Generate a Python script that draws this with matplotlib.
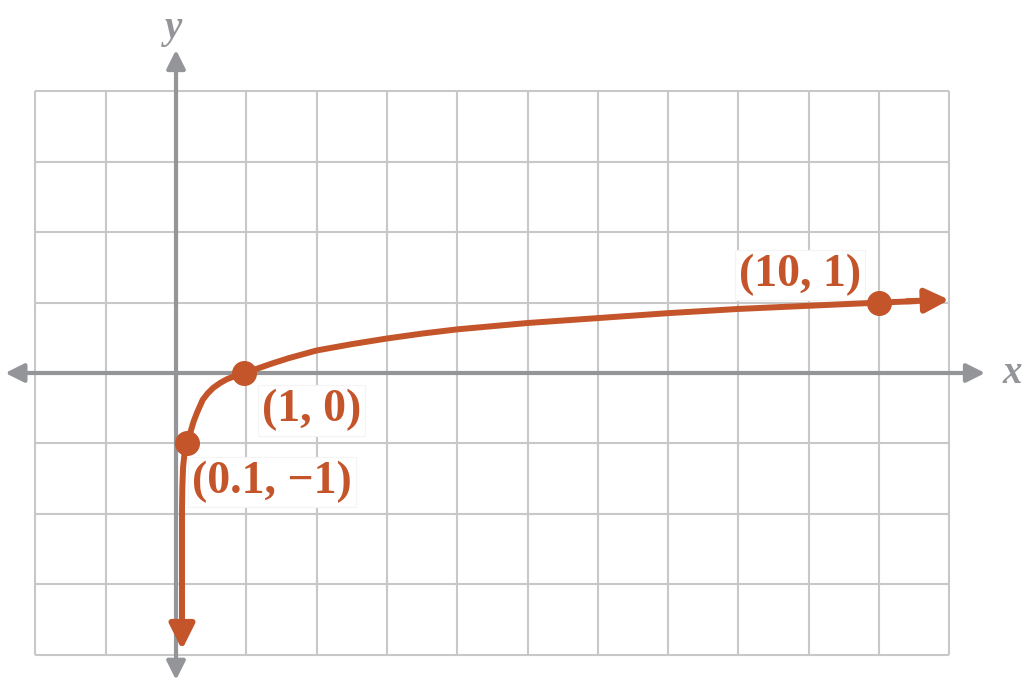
import numpy as np
import matplotlib.pyplot as plt

# points along the drawn curve
curve_x = [0.085, 0.085, 0.09, 0.10, 0.12, 0.145, 0.17, 0.20, 0.25, 0.30, 0.38, 0.45, 0.53,
           0.63, 0.72, 0.82, 0.97, 1.15, 1.35, 1.6, 2.0, 2.5, 3.0, 3.5, 4.0, 5.0, 6.0,
           7.0, 8.0, 9.0, 10.0]
curve_y = [-3.4, -1.95, -1.62, -1.34, -1.15, -1.05, -0.97, -0.86, -0.69, -0.56, -0.38, -0.29, -0.21,
           -0.14, -0.09, -0.05, 0.0, 0.06, 0.13, 0.21, 0.32, 0.41, 0.49, 0.56, 0.62, 0.71, 0.78,
           0.85, 0.91, 0.955, 1.0]
tip_bottom = (0.085, -3.93)
tip_right = (11.0, 1.04)

point_x = [0.16, 0.97, 10.0]
point_y = [-1, 0, 1]
point_labels = ['(0.1, \u22121)', '(1, 0)', '(10, 1)']
label_pos = [(1.37, -1.55), (1.93, -0.53), (8.88, 1.39)]

orange = '#C4552A'
gray = '#939598'
grid_c = '#C8C8C8'

fig = plt.figure(figsize=(10.24, 6.88), dpi=100)
ax = fig.add_axes([0, 0, 1, 1])
ax.set_xlim(-2.504, 12.063)
ax.set_ylim(-4.474, 5.298)
ax.axis('off')

# grid
ax.vlines(np.arange(-2, 12), -4, 4, color=grid_c, lw=1.5, zorder=1)
ax.hlines(np.arange(-4, 5), -2, 11, color=grid_c, lw=1.5, zorder=1)

# axes with arrows
ax.annotate('', xy=(-2.43, 0), xytext=(11.51, 0),
            arrowprops=dict(arrowstyle='<|-|>', color=gray, lw=3, mutation_scale=28,
                            shrinkA=0, shrinkB=0), zorder=2)
ax.annotate('', xy=(0, 4.59), xytext=(0, -4.36),
            arrowprops=dict(arrowstyle='<|-|>', color=gray, lw=3, mutation_scale=28,
                            shrinkA=0, shrinkB=0), zorder=2)
ax.text(11.9, 0, 'x', fontsize=28, family='Liberation Serif', style='italic',
        color=gray, ha='center', va='center', fontweight='bold')
ax.text(-0.04, 4.9, 'y', fontsize=28, family='Liberation Serif', style='italic',
        color=gray, ha='center', va='center', fontweight='bold')

# labels with white boxes
for (lx, ly), s in zip(label_pos, point_labels):
    ax.text(lx, ly, s, fontsize=33, family='Liberation Serif', fontweight='bold',
            color=orange, ha='center', va='center', zorder=3,
            bbox=dict(facecolor='white', edgecolor='#F4F4F4', lw=0.8, pad=3))

# curve
ax.plot(curve_x, curve_y, color=orange, lw=4.3, solid_joinstyle='round', zorder=4)
ax.plot([curve_x[-1], 10.5], [curve_y[-1], 1.02], color=orange, lw=4.3, zorder=4)
ax.annotate('', xy=tip_right, xytext=(10.4, 1.02),
            arrowprops=dict(arrowstyle='-|>', color=orange, lw=4.3, mutation_scale=36,
                            shrinkA=0, shrinkB=0), zorder=4)
ax.annotate('', xy=tip_bottom, xytext=(curve_x[0], curve_y[0] + 0.1),
            arrowprops=dict(arrowstyle='-|>', color=orange, lw=4.3, mutation_scale=38,
                            shrinkA=0, shrinkB=0), zorder=4)

ax.plot(point_x, point_y, 'o', color=orange, ms=17, zorder=5)

fig.savefig('out.png', dpi=100)
